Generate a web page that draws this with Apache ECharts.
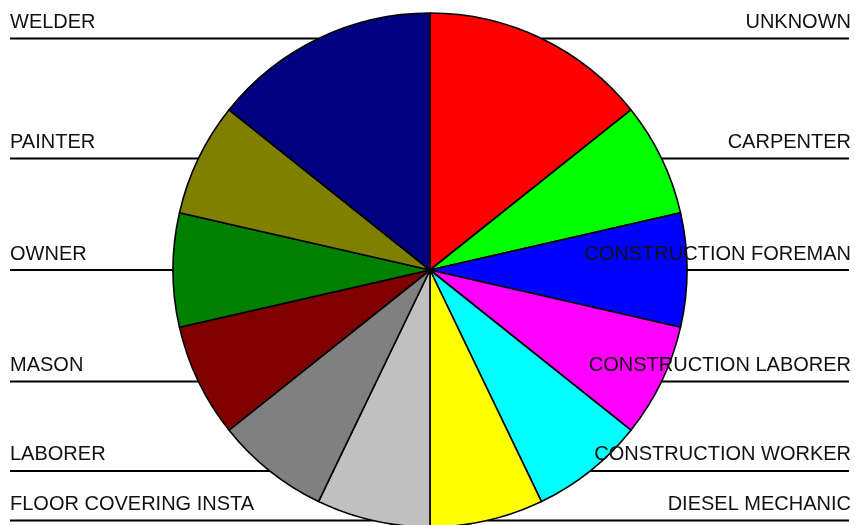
<!DOCTYPE html>
<html>
<head>
<meta charset="utf-8">
<script src="https://cdn.jsdelivr.net/npm/echarts@6/dist/echarts.min.js"></script>
<style>html,body{margin:0;padding:0;background:#fff}#c{width:855px;height:525px}</style>
</head>
<body>
<div id="c"></div>
<script>
const categories = ['UNKNOWN','CARPENTER','CONSTRUCTION FOREMAN','CONSTRUCTION LABORER','CONSTRUCTION WORKER','DIESEL MECHANIC','FLOOR COVERING INSTA','LABORER','MASON','OWNER','PAINTER','WELDER'];
const values = [2,1,1,1,1,1,1,1,1,1,1,2];
const colors = ['#FF0000','#00FF00','#0000FF','#FF00FF','#00FFFF','#FFFF00','#C0C0C0','#808080','#800000','#008000','#808000','#000080'];

const W = 855, CX = 430, CY = 270, R = 257;
const chart = echarts.init(document.getElementById('c'), null, {renderer:'canvas'});
chart.setOption({
  animation: false,
  backgroundColor: '#fff',
  series: [{
    type: 'pie',
    center: [CX, CY],
    radius: [0, R],
    startAngle: 90,
    clockwise: true,
    avoidLabelOverlap: false,
    data: categories.map((n,i)=>({name:n, value:values[i], itemStyle:{color:colors[i]}})),
    itemStyle: {borderColor:'#000', borderWidth:1.6},
    emphasis: {disabled:true},
    label: {
      show: true, position: 'outside', formatter: '{b}',
      fontFamily: 'Liberation Sans, Arial, sans-serif', fontSize: 20, color: '#111'
    },
    labelLine: {show: true, length: 0, length2: 0, smooth: false, lineStyle:{color:'#000', width:2}},
    labelLayout: function (p) {
      const p0 = p.labelLinePoints[0];
      const right = p0[0] >= CX;
      const ex = right ? 849 : 10;
      return {
        x: right ? 851 : 10,
        y: p0[1] - 6,
        align: right ? 'right' : 'left',
        verticalAlign: 'bottom',
        labelLinePoints: [[p0[0], p0[1]], [p0[0], p0[1]], [ex, p0[1]]]
      };
    }
  }]
});
</script>
</body>
</html>
